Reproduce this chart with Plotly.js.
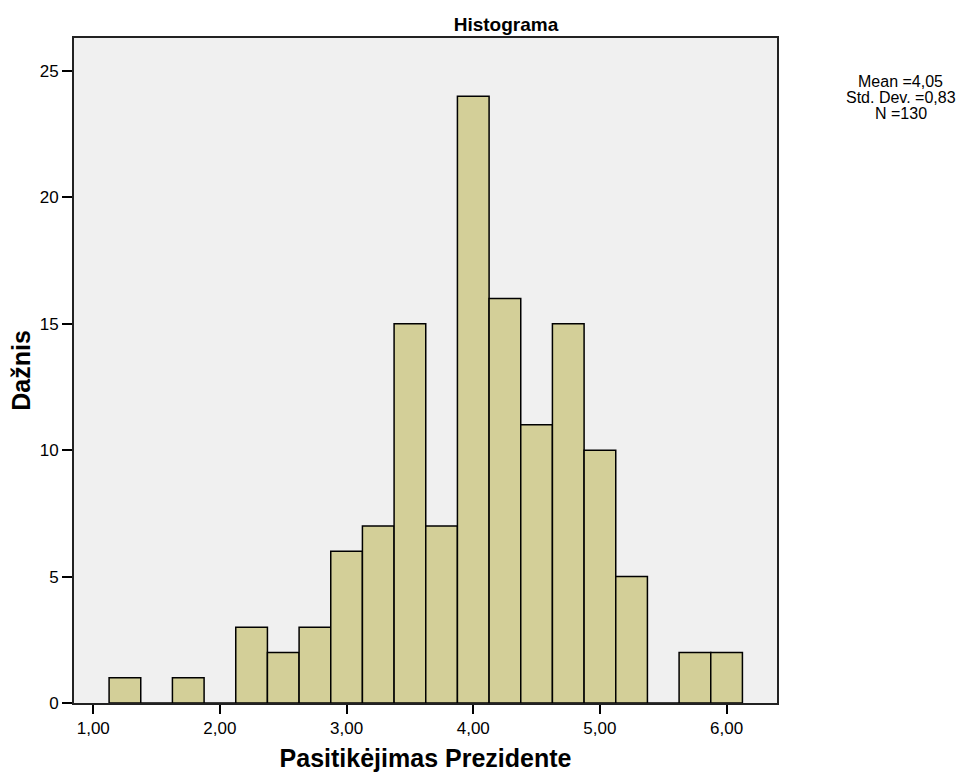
<!DOCTYPE html>
<html>
<head>
<meta charset="utf-8">
<script src="https://cdn.plot.ly/plotly-3.0.1.min.js"></script>
<style>html,body{margin:0;padding:0;background:#fff;}#chart{width:968px;height:773px;}</style>
</head>
<body>
<div id="chart"></div>
<script>
const binCenters = [1.25, 1.5, 1.75, 2.0, 2.25, 2.5, 2.75, 3.0, 3.25, 3.5, 3.75, 4.0, 4.25, 4.5, 4.75, 5.0, 5.25, 5.5, 5.75, 6.0];
const counts =     [1,    0,   1,    0,   3,    2,   3,    6,   7,    15,  7,    24,  16,   11,  15,   10,  5,    0,   2,    2];
const xTicks = [1, 2, 3, 4, 5, 6];
const yTicks = [0, 5, 10, 15, 20, 25];
const statsLines = ["Mean =4,05", "Std. Dev. =0,83", "N =130"];

const font = "Liberation Sans, Arial, sans-serif";

const trace = {
  type: "bar",
  x: binCenters,
  y: counts,
  width: 0.25,
  marker: {color: "#d3cf98", line: {color: "#000000", width: 1.5}},
  hoverinfo: "x+y"
};

const statsY = [0.935, 0.911, 0.887];
const annotations = statsLines.map((t, i) => ({
  text: t,
  xref: "paper", yref: "paper",
  x: 1.176, y: statsY[i],
  xanchor: "center", yanchor: "middle",
  showarrow: false,
  font: {family: font, size: 16, color: "#000"}
}));

const layout = {
  width: 968, height: 773,
  margin: {l: 74, r: 191, t: 38, b: 70},
  paper_bgcolor: "#ffffff",
  plot_bgcolor: "#f0f0f0",
  separators: ",.",
  showlegend: false,
  bargap: 0,
  font: {family: font, color: "#000000"},
  title: {text: "<b>Histograma</b>", font: {family: font, size: 19, color: "#000"}, x: 0.6145, xref: "paper", y: 0.969, yref: "container", xanchor: "center", yanchor: "middle"},
  xaxis: {
    range: [0.848, 6.398],
    tickvals: xTicks,
    tickformat: ".2f",
    ticks: "outside", ticklen: 9, tickwidth: 2, tickcolor: "#000",
    showline: true, mirror: true, linecolor: "#222", linewidth: 2,
    showgrid: false, zeroline: false,
    tickfont: {family: font, size: 17, color: "#000"},
    title: {text: "<b>Pasitikėjimas Prezidente</b>", font: {family: font, size: 25, color: "#000"}, standoff: 12}
  },
  yaxis: {
    range: [0, 26.3],
    tickvals: yTicks,
    ticks: "outside", ticklen: 10, tickwidth: 2, tickcolor: "#000",
    showline: true, mirror: true, linecolor: "#222", linewidth: 2,
    showgrid: false, zeroline: false,
    tickfont: {family: font, size: 17, color: "#000"},
    title: {text: "<b>Dažnis</b>", font: {family: font, size: 25, color: "#000"}, standoff: 2}
  },
  annotations: annotations
};

Plotly.newPlot("chart", [trace], layout, {displayModeBar: false, staticPlot: true});
</script>
</body>
</html>
